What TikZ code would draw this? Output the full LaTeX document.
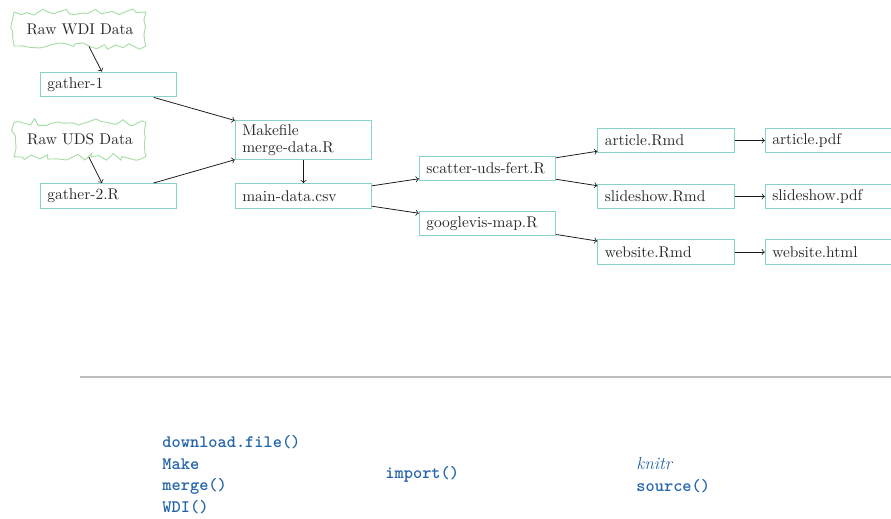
\documentclass[tikz,border=0pt]{standalone}
\usepackage{fontspec}
\usetikzlibrary{decorations.pathmorphing,arrows}
\definecolor{boxline}{RGB}{135,210,200}
\definecolor{cloudline}{RGB}{165,222,165}
\definecolor{codeblue}{RGB}{35,100,170}
\definecolor{ink}{RGB}{40,40,40}
\definecolor{rulegray}{RGB}{190,190,190}
\tikzset{
  filebox/.style={draw=boxline, line width=0.65pt, text=ink, align=left,
    text width=79pt, inner xsep=4.5pt, inner ysep=2.5pt, minimum height=16pt,
    font=\fontsize{10}{11}\selectfont},
  rawdata/.style={draw=cloudline, line width=0.6pt, text=ink,
    minimum width=85pt, minimum height=22pt,
    decorate, decoration={random steps, segment length=4pt, amplitude=2.4pt}},
  flow/.style={->, >=to, line width=0.5pt, black!90},
  codecol/.style={anchor=west, align=left, text=codeblue,
    font=\fontsize{11.3}{14}\selectfont\ttfamily\bfseries}
}
\begin{document}
\begin{tikzpicture}[x=0.6452pt, y=-0.6452pt]
\pgfmathsetseed{11}
\useasboundingbox (0,0) rectangle (891,518);
\clip (0,0) rectangle (891,518);

% raw data sources
\node[rawdata] (wdi) at (80,29) {Raw WDI Data};
\node[rawdata] (uds) at (80,139.5) {Raw UDS Data};

% pipeline files
\node[filebox] (g1) at (108.5,84.5) {gather-1};
\node[filebox] (g2) at (108.5,196) {gather-2.R};
\node[filebox] (mk) at (303.5,140) {Makefile\\merge-data.R};
\node[filebox] (md) at (303.5,196) {main-data.csv};
\node[filebox] (sc) at (487.5,168.5) {scatter-uds-fert.R};
\node[filebox] (gv) at (487.5,223.5) {googlevis-map.R};
\node[filebox] (ar) at (666,140.5) {article.Rmd};
\node[filebox] (sl) at (666,196.5) {slideshow.Rmd};
\node[filebox] (wr) at (666,252) {website.Rmd};
\node[filebox] (ap) at (833.5,140.5) {article.pdf};
\node[filebox] (sp) at (833.5,196.5) {slideshow.pdf};
\node[filebox] (wh) at (833.5,252) {website.html};

% connectors
\draw[flow] (wdi) -- (g1);
\draw[flow] (uds) -- (g2);
\draw[flow] (g1) -- (mk);
\draw[flow] (g2) -- (mk);
\draw[flow] (mk) -- (md);
\draw[flow] (md) -- (sc);
\draw[flow] (md) -- (gv);
\draw[flow] (sc) -- (ar);
\draw[flow] (sc) -- (sl);
\draw[flow] (gv) -- (wr);
\draw[flow] (ar) -- (ap);
\draw[flow] (sl) -- (sp);
\draw[flow] (wr) -- (wh);

% separator rule
\coordinate (ruleL) at (80,377);
\coordinate (ruleR) at (891,377);
\draw[rulegray, line width=1.3pt] (ruleL) -- (ruleR);

% tools used at each stage
\node[codecol] (tools1) at (157,474.5) {download.file()\\Make\\merge()\\WDI()};
\node[codecol] (tools2) at (380,474) {import()};
\node[codecol] (tools3) at (631,475) {{\normalfont\itshape knitr}\\source()};
\end{tikzpicture}
\end{document}
